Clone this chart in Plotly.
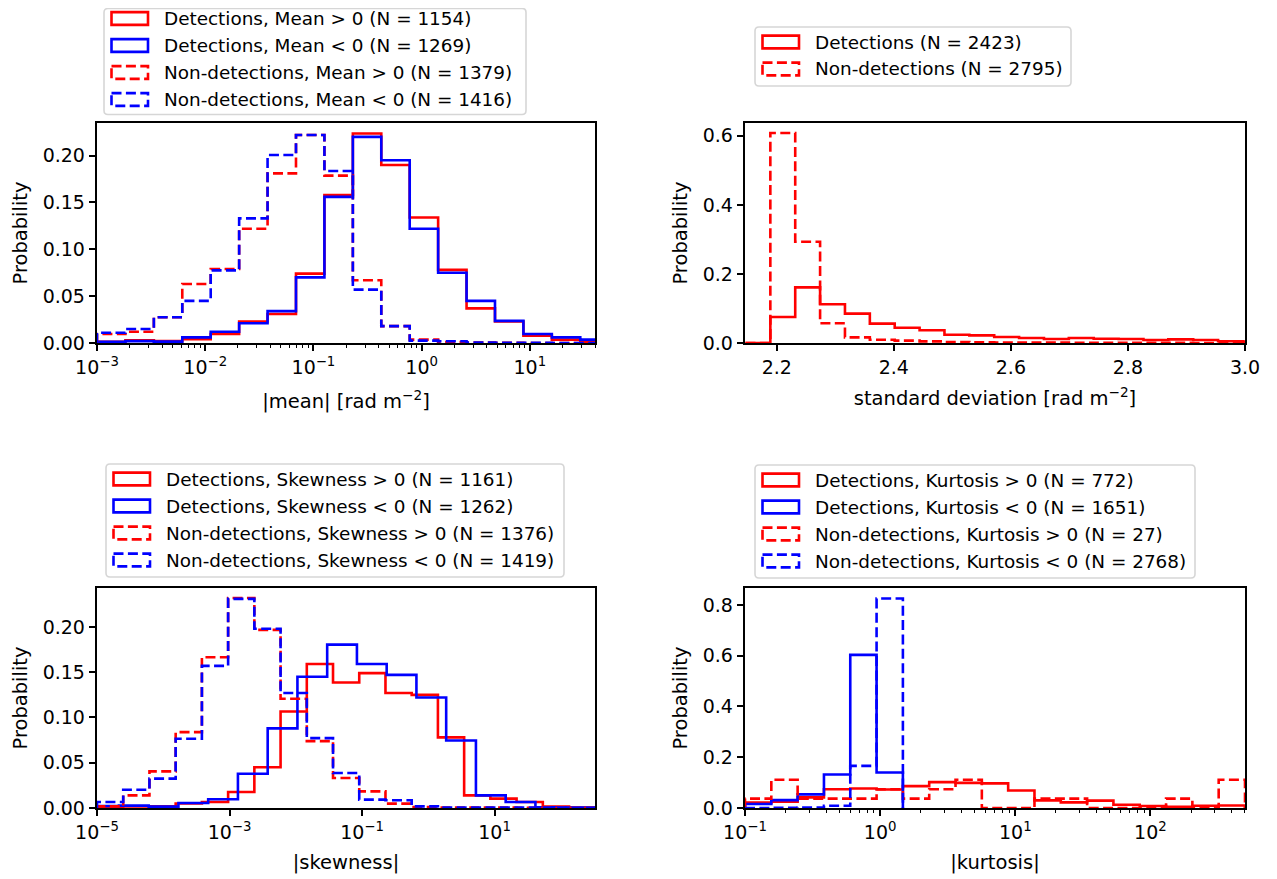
import numpy as np
import plotly.graph_objects as go

# page body has an 8px margin, so the figure is sized to fit the window after it
PAGE_PAD = 8
W, H = 1277 - PAGE_PAD, 879 - PAGE_PAD
RED = "#ff0000"
BLUE = "#0000ff"
FONT = "DejaVu Sans"
FS = 18.4
TICK_FS = 19
TITLE_FS = 19.5

# |mean| histograms (log-spaced bins, 1e-3 .. ~53)
MEAN_EDGES = np.logspace(-3.0, 1.7286, 19)
MEAN_DET_POS = [0.0014, 0.003, 0.002, 0.004, 0.0096, 0.023, 0.031, 0.074, 0.158,
                0.2236, 0.190, 0.134, 0.078, 0.037, 0.023, 0.0079, 0.0036, 0.0014]
MEAN_DET_NEG = [0.0014, 0.002, 0.0015, 0.006, 0.012, 0.021, 0.034, 0.070, 0.156,
                0.220, 0.195, 0.122, 0.075, 0.045, 0.0236, 0.0096, 0.006, 0.0036]
MEAN_NON_POS = [0.0096, 0.012, 0.0275, 0.063, 0.079, 0.122, 0.181, 0.222, 0.1786,
                0.067, 0.018, 0.0036, 0.001, 0.0005, 0.0003, 0.0, 0.0, 0.0]
MEAN_NON_NEG = [0.011, 0.015, 0.0275, 0.045, 0.0775, 0.133, 0.2007, 0.222, 0.1836,
                0.057, 0.018, 0.0025, 0.0018, 0.0005, 0.0003, 0.0003, 0.0, 0.0]

# standard deviation histograms (linear bins)
STD_EDGES = np.linspace(2.1465, 3.039, 22)
STD_DET = [0.0, 0.0753, 0.161, 0.112, 0.085, 0.056, 0.044, 0.0367, 0.024, 0.022, 0.0174,
           0.0145, 0.0116, 0.0145, 0.0125, 0.0116, 0.0087, 0.0106, 0.0087, 0.005, 0.004]
STD_NON = [0.0, 0.608, 0.293, 0.057, 0.0164, 0.0096, 0.0068, 0.0048, 0.003, 0.002, 0.0015,
           0.001, 0.001, 0.0008, 0.0005, 0.0005, 0.0003, 0.0003, 0.0002, 0.0002, 0.0]

# |skewness| histograms
SKEW_EDGES = np.logspace(-5.0, 2.52, 20)
SKEW_DET_NEG_EDGES = np.logspace(-5.118, 2.515, 18)
SKEW_DET_POS = [0.001, 0.0018, 0.002, 0.005, 0.0066, 0.0176, 0.045, 0.1066, 0.159, 0.1386,
                0.149, 0.127, 0.125, 0.078, 0.014, 0.0103, 0.0066, 0.0015, 0.0004]
SKEW_DET_NEG = [0.0022, 0.0026, 0.0015, 0.0055, 0.0096, 0.0379, 0.088, 0.145, 0.1805,
                0.159, 0.147, 0.122, 0.0746, 0.014, 0.0066, 0.0007, 0.0004]
SKEW_NON_POS = [0.0018, 0.014, 0.0404, 0.0838, 0.1665, 0.232, 0.1967, 0.1206, 0.0739,
                0.0331, 0.0184, 0.0048, 0.0011, 0.0004, 0.0004, 0.0004, 0.0002, 0.0, 0.0]
SKEW_NON_NEG = [0.0066, 0.0202, 0.0324, 0.0765, 0.157, 0.231, 0.198, 0.127, 0.0772,
                0.0386, 0.0092, 0.0085, 0.0018, 0.0004, 0.0004, 0.0004, 0.0004, 0.0, 0.0]

# |kurtosis| histograms
KURT_EDGES = np.logspace(-1.0, 2.70, 20)
KURT_DET_POS = [0.021, 0.025, 0.042, 0.074, 0.077, 0.073, 0.086, 0.102, 0.099, 0.097,
                0.069, 0.030, 0.022, 0.029, 0.013, 0.0078, 0.005, 0.009, 0.010]
KURT_DET_NEG = [0.0157, 0.031, 0.0535, 0.132, 0.603, 0.140]
KURT_NON_POS = [0.037, 0.111, 0.037, 0.037, 0.037, 0.074, 0.037, 0.074, 0.111, 0.0,
                0.0, 0.037, 0.037, 0.0, 0.0, 0.0, 0.037, 0.0, 0.111]
KURT_NON_NEG = [0.0, 0.001, 0.002, 0.009, 0.166, 0.825]

LEGEND_MEAN = ["Detections, Mean > 0 (N = 1154)", "Detections, Mean < 0 (N = 1269)",
               "Non-detections, Mean > 0 (N = 1379)", "Non-detections, Mean < 0 (N = 1416)"]
LEGEND_STD = ["Detections (N = 2423)", "Non-detections (N = 2795)"]
LEGEND_SKEW = ["Detections, Skewness > 0 (N = 1161)", "Detections, Skewness < 0 (N = 1262)",
               "Non-detections, Skewness > 0 (N = 1376)", "Non-detections, Skewness < 0 (N = 1419)"]
LEGEND_KURT = ["Detections, Kurtosis > 0 (N = 772)", "Detections, Kurtosis < 0 (N = 1651)",
               "Non-detections, Kurtosis > 0 (N = 27)", "Non-detections, Kurtosis < 0 (N = 2768)"]

STYLES = [(RED, "solid"), (BLUE, "solid"), (RED, "10px,4.4px"), (BLUE, "10px,4.4px")]
STD_STYLES = [(RED, "solid"), (RED, "10px,4.4px")]


def px_x(px):
    return (px - PAGE_PAD) / W


def px_y(py):
    return 1 - (py - PAGE_PAD) / H


def step_trace(edges, values, color, dash, xaxis, yaxis):
    edges = list(edges[: len(values) + 1])
    x = [edges[0]] + edges
    y = [0.0] + list(values) + [0.0]
    return go.Scatter(x=x, y=y, mode="lines", line=dict(color=color, width=2.6, dash=dash, shape="hv"),
                      xaxis=xaxis, yaxis=yaxis, hoverinfo="skip")


def pow_labels(exps):
    return [10.0 ** e for e in exps], [f"10<sup>{'−' if e < 0 else ''}{abs(e)}</sup>" for e in exps]


def minor_vals(lo, hi):
    return [m * 10.0 ** d for d in range(lo, hi) for m in range(2, 10)]


def axis_style(title, standoff, **kw):
    base = dict(showline=True, linecolor="black", linewidth=1.5, mirror=True, ticks="outside",
                ticklen=6.5, tickwidth=1.5, tickcolor="black", showgrid=False, zeroline=False,
                automargin=False, tickfont=dict(size=TICK_FS, color="black"),
                title=dict(text=title, standoff=standoff, font=dict(size=TITLE_FS, color="black")))
    base.update(kw)
    return base


def add_legend(fig, left, top, right, labels, styles, first=15, tail=17):
    row = 27
    bottom = top + first + row * (len(labels) - 1) + tail
    r = 4
    x0, x1, y0, y1 = px_x(left), px_x(right), px_y(top), px_y(bottom)
    rx, ry = r / W, r / H
    path = (f"M {x0 + rx},{y0} L {x1 - rx},{y0} Q {x1},{y0} {x1},{y0 - ry} "
            f"L {x1},{y1 + ry} Q {x1},{y1} {x1 - rx},{y1} L {x0 + rx},{y1} "
            f"Q {x0},{y1} {x0},{y1 + ry} L {x0},{y0 - ry} Q {x0},{y0} {x0 + rx},{y0} Z")
    fig.add_shape(type="path", path=path, xref="paper", yref="paper",
                  line=dict(color="#d6d6d6", width=1.6), fillcolor="white", layer="above")
    for i, (label, (color, dash)) in enumerate(zip(labels, styles)):
        cy = top + first + row * i
        fig.add_shape(type="rect", xref="paper", yref="paper",
                      x0=px_x(left + 7.5), x1=px_x(left + 44), y0=px_y(cy - 6.4), y1=px_y(cy + 6.4),
                      line=dict(color=color, width=2.6, dash=dash), fillcolor="rgba(0,0,0,0)",
                      layer="above")
        fig.add_annotation(x=px_x(left + 59), y=px_y(cy), xref="paper", yref="paper",
                           text=label, showarrow=False, xanchor="left", yanchor="middle",
                           borderpad=0, font=dict(size=FS, color="black"))


fig = go.Figure()

panels = [
    ("x", "y", MEAN_EDGES, [MEAN_DET_POS, MEAN_DET_NEG, MEAN_NON_POS, MEAN_NON_NEG], None, STYLES),
    ("x2", "y2", STD_EDGES, [STD_DET, STD_NON], None, STD_STYLES),
    ("x3", "y3", SKEW_EDGES, [SKEW_DET_POS, SKEW_DET_NEG, SKEW_NON_POS, SKEW_NON_NEG],
     {1: SKEW_DET_NEG_EDGES}, STYLES),
    ("x4", "y4", KURT_EDGES, [KURT_DET_POS, KURT_DET_NEG, KURT_NON_POS, KURT_NON_NEG], None, STYLES),
]
for xa, ya, edges, series, special, styles in panels:
    for i, (vals, (color, dash)) in enumerate(zip(series, styles)):
        e = special[i] if special and i in special else edges
        fig.add_trace(step_trace(e, vals, color, dash, xa, ya))

LEFT_X = [px_x(97), px_x(595)]
RIGHT_X = [px_x(745), px_x(1245)]
TOP_Y = [px_y(343), px_y(123)]
BOT_Y = [px_y(808), px_y(588)]

unit = "[rad m<sup>−2</sup>]"
tv1, tt1 = pow_labels([-3, -2, -1, 0, 1])
tv3, tt3 = pow_labels([-5, -3, -1, 1])
tv4, tt4 = pow_labels([-1, 0, 1, 2])
minor_style = dict(ticks="outside", ticklen=3.7, tickwidth=1.2, tickcolor="black", showgrid=False)

fig.update_layout(
    width=W, height=H, margin=dict(l=0, r=0, t=0, b=0), showlegend=False,
    plot_bgcolor="white", paper_bgcolor="white",
    font=dict(family=FONT, size=FS, color="black"),
    xaxis=axis_style(f"|mean| {unit}", 17, domain=LEFT_X, anchor="y", type="log", range=[-3, 1.602],
                     tickvals=tv1, ticktext=tt1, minor=dict(tickvals=minor_vals(-3, 2), **minor_style)),
    yaxis=axis_style("Probability", 10, domain=TOP_Y, anchor="x", range=[0, 0.2348], tick0=0,
                     dtick=0.05, tickformat=".2f"),
    xaxis2=axis_style(f"standard deviation {unit}", 14, domain=RIGHT_X, anchor="y2",
                      range=[2.1457, 3.0], tick0=2.2, dtick=0.2, tickformat=".1f"),
    yaxis2=axis_style("Probability", 10, domain=TOP_Y, anchor="x2", range=[0, 0.637], tick0=0,
                      dtick=0.2, tickformat=".1f"),
    xaxis3=axis_style("|skewness|", 13, domain=LEFT_X, anchor="y3", type="log", range=[-5, 2.516],
                      tickvals=tv3, ticktext=tt3),
    yaxis3=axis_style("Probability", 10, domain=BOT_Y, anchor="x3", range=[0, 0.243], tick0=0,
                      dtick=0.05, tickformat=".2f"),
    xaxis4=axis_style("|kurtosis|", 13, domain=RIGHT_X, anchor="y4", type="log", range=[-1, 2.70],
                      tickvals=tv4, ticktext=tt4,
                      minor=dict(tickvals=minor_vals(-1, 3), **minor_style)),
    yaxis4=axis_style("Probability", 10, domain=BOT_Y, anchor="x4", range=[0, 0.8666], tick0=0,
                      dtick=0.2, tickformat=".1f"),
)

add_legend(fig, 104, 8.5, 526, LEGEND_MEAN, STYLES, first=10, tail=15)
add_legend(fig, 755, 27, 1071, LEGEND_STD, STD_STYLES)
add_legend(fig, 106, 464, 564, LEGEND_SKEW, STYLES)
add_legend(fig, 755, 465, 1195, LEGEND_KURT, STYLES)

fig.write_html("out.html")
